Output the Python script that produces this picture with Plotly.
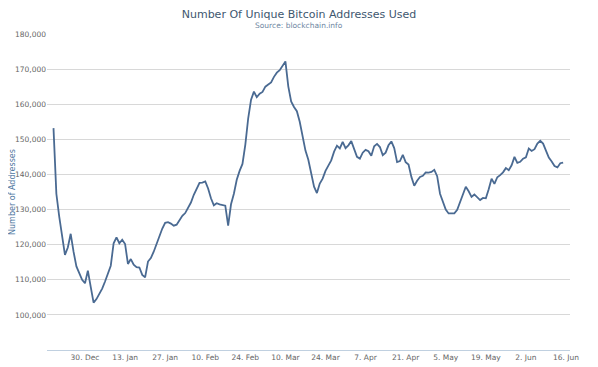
import plotly.graph_objects as go
import pandas as pd

start_date = "2013-12-19"
addresses_k = [
    153.2, 134.5, 128.0, 122.3, 117.1, 119.2, 123.1, 118.0, 113.8, 111.9,
    110.0, 109.0, 112.6, 108.0, 103.5, 104.5, 106.0, 107.5, 109.5, 112.0,
    114.0, 120.4, 122.1, 120.4, 121.4, 120.2, 114.5, 115.9, 114.3, 113.6,
    113.5, 111.4, 110.7, 115.2, 116.2, 118.0, 120.4, 122.8, 124.6, 126.2,
    126.4, 126.0, 125.4, 125.7, 127.1, 128.2, 129.0, 130.4, 132.0, 134.2,
    136.0, 137.6, 137.7, 138.0, 136.0, 133.2, 131.2, 131.8, 131.5, 131.4,
    131.1, 125.4, 131.5, 134.5, 138.5, 141.0, 143.0, 148.5, 156.0, 161.3,
    163.6, 162.0, 163.0, 163.5, 165.0, 165.6, 166.2, 167.8, 169.0, 169.7,
    171.0, 172.2, 165.1, 160.8, 159.2, 158.0, 155.0, 151.0, 146.8, 144.2,
    140.5, 136.5, 134.7, 137.4, 138.8, 141.0, 142.5, 144.0, 146.5, 148.2,
    147.4, 149.3, 147.5, 148.3, 149.5, 147.5, 145.0, 144.5, 146.2, 147.0,
    146.6, 145.3, 148.0, 148.7, 147.8, 145.5, 146.2, 148.3, 149.4, 147.5,
    143.5, 143.8, 145.6, 143.5, 142.8, 139.3, 136.8, 138.2, 139.3, 139.6,
    140.6, 140.5, 140.7, 141.3, 139.5, 134.5, 132.0, 130.0, 128.9, 128.8,
    128.9, 129.9, 132.0, 133.9, 136.5, 135.2, 133.6, 134.3, 133.5, 132.7,
    133.3, 133.2, 135.8, 138.8, 137.3, 139.2, 139.8, 140.6, 141.8, 141.2,
    142.6, 145.0, 143.3, 143.6, 144.5, 144.9, 147.4, 146.7, 147.2, 148.8,
    149.6, 148.8, 146.8, 144.8, 143.7, 142.4, 142.0, 143.2, 143.4,
]
dates = pd.date_range(start_date, periods=len(addresses_k), freq="D")
values = [v * 1000 for v in addresses_k]

tick_dates = ["2013-12-30", "2014-01-13", "2014-01-27", "2014-02-10", "2014-02-24",
              "2014-03-10", "2014-03-24", "2014-04-07", "2014-04-21", "2014-05-05",
              "2014-05-19", "2014-06-02", "2014-06-16"]
tick_labels = ["30. Dec", "13. Jan", "27. Jan", "10. Feb", "24. Feb", "10. Mar",
               "24. Mar", "7. Apr", "21. Apr", "5. May", "19. May", "2. Jun", "16. Jun"]
y_ticks = [100000, 110000, 120000, 130000, 140000, 150000, 160000, 170000, 180000]
y_labels = ["100,000", "110,000", "120,000", "130,000", "140,000", "150,000",
            "160,000", "170,000", "180,000"]

FONT = "DejaVu Sans"
OFF = 8  # page body margin offsets the figure by 8px
W, H = 598 - OFF, 367 - OFF
L, R, T, B = 47 - OFF, 28, 34 - OFF, 17
PH = H - T - B
PW = W - L - R


def paper_y(px_from_top):
    return (H - B - (px_from_top - OFF)) / PH


fig = go.Figure()
fig.add_trace(go.Scatter(
    x=dates, y=values, mode="lines",
    line=dict(color="#4a6a92", width=1.8),
    hoverinfo="x+y", showlegend=False,
))

fig.update_layout(
    width=W, height=H,
    margin=dict(l=L, r=R, t=T, b=B, autoexpand=False),
    paper_bgcolor="white", plot_bgcolor="white",
    font=dict(family=FONT, color="#666666", size=8),
    title=dict(
        text="Number Of Unique Bitcoin Addresses Used",
        x=(299 - OFF) / W, xanchor="center", xref="container",
        y=1 - (14 - OFF) / H, yanchor="middle", yref="container",
        font=dict(family=FONT, size=11, color="#3E576F"),
    ),
    annotations=[dict(
        text="Source: blockchain.info", xref="paper", yref="paper",
        x=(299 - 47) / PW, y=paper_y(25), xanchor="center", yanchor="middle",
        showarrow=False, font=dict(family=FONT, size=7.5, color="#6D869F"),
    )],
    xaxis=dict(
        type="date", automargin=False,
        range=["2013-12-16 17:30", "2014-06-17 09:30"],
        tickvals=tick_dates, ticktext=tick_labels,
        showgrid=False, zeroline=False,
        showline=True, linecolor="#C0D0E0", linewidth=1,
        ticks="", tickfont=dict(size=7.5, color="#666666"),
    ),
    yaxis=dict(
        range=[90000, 180000], automargin=False,
        tickvals=y_ticks, ticktext=y_labels,
        showgrid=True, gridcolor="#D8D8D8", gridwidth=1,
        zeroline=False, showline=False, ticks="",
        tickfont=dict(size=7.5, color="#666666"),
        title=dict(text="Number of Addresses", standoff=4,
                   font=dict(family=FONT, size=8, color="#4d759e")),
    ),
)

fig.write_html("out.html")
